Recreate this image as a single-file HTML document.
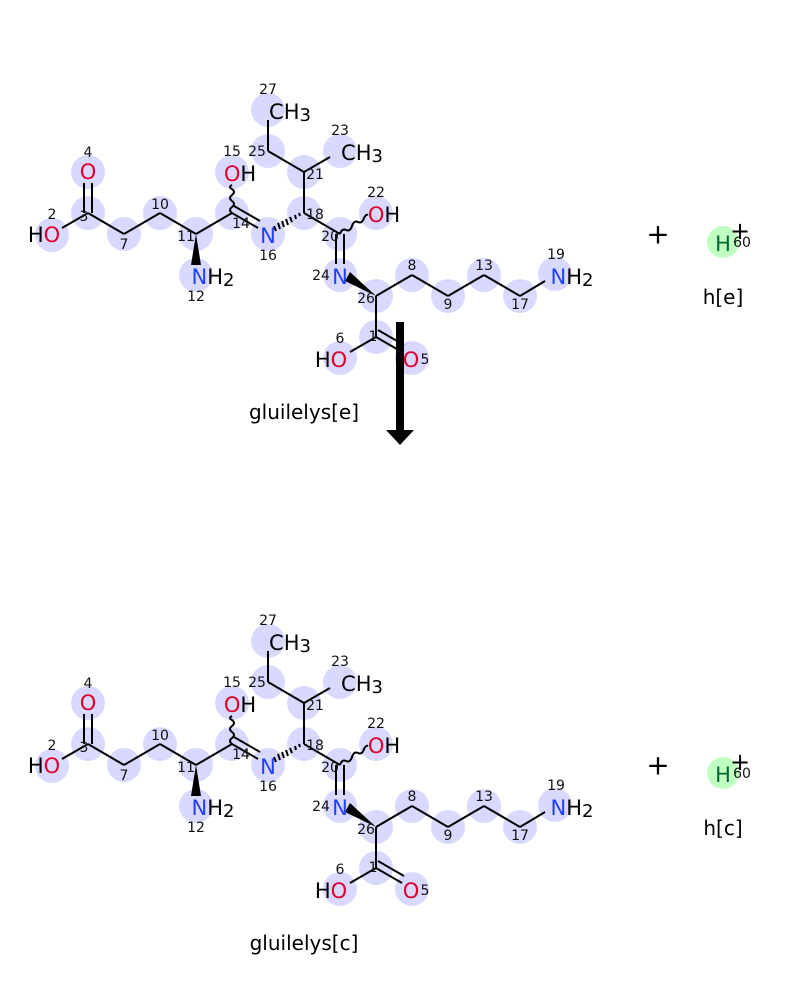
<!DOCTYPE html>
<html><head><meta charset="utf-8"><style>
html,body{margin:0;padding:0;background:#fff}
svg text{font-family:"DejaVu Sans","Liberation Sans",sans-serif}
.e{font-size:21px;text-anchor:middle;dominant-baseline:central}
.n{font-size:14px;text-anchor:middle;dominant-baseline:central;fill:#111}
.O{fill:#e0002a}.N{fill:#2040ff}
line,path.b{stroke:#000;stroke-width:2;fill:none}
.c{fill:#d9d9ff}
</style></head><body>
<svg width="800" height="1000" viewBox="0 0 800 1000" xmlns="http://www.w3.org/2000/svg">
<rect width="800" height="1000" fill="#fff"/>
<g id="m1">
<g class="c">
<circle cx="88" cy="172" r="17"/><circle cx="88" cy="213" r="17"/><circle cx="52" cy="235" r="17"/><circle cx="124" cy="234" r="17"/>
<circle cx="160" cy="213" r="17"/><circle cx="196" cy="234" r="17"/><circle cx="196" cy="275" r="17"/><circle cx="232" cy="213" r="17"/>
<circle cx="232" cy="172" r="17"/><circle cx="268" cy="234" r="17"/><circle cx="304" cy="213" r="17"/><circle cx="304" cy="172" r="17"/>
<circle cx="268" cy="151" r="17"/><circle cx="268" cy="110" r="17"/><circle cx="340" cy="151" r="17"/><circle cx="340" cy="234" r="17"/>
<circle cx="376" cy="213" r="17"/><circle cx="340" cy="275" r="17"/><circle cx="376" cy="296" r="17"/><circle cx="412" cy="275" r="17"/>
<circle cx="448" cy="296" r="17"/><circle cx="484" cy="275" r="17"/><circle cx="520" cy="296" r="17"/><circle cx="555" cy="274" r="17"/>
<circle cx="376" cy="337" r="17"/><circle cx="340" cy="358" r="17"/><circle cx="412" cy="358" r="17"/>
</g>
<line x1="84" y1="213" x2="84" y2="183"/><line x1="92" y1="213" x2="92" y2="183"/>
<line x1="88" y1="213" x2="62" y2="228"/>
<line x1="88" y1="213" x2="124" y2="234"/><line x1="124" y1="234" x2="160" y2="213"/><line x1="160" y1="213" x2="196" y2="234"/>
<line x1="196" y1="234" x2="232" y2="213"/>
<polygon points="196,234 191,265 201,265" fill="#000"/>
<path class="b" d="M232,213 q-4,-3 0,-6 q4,-3 0,-6 q-4,-3 0,-6 q4,-3 0,-6 q-4,-2 0,-4"/>
<line x1="232" y1="213" x2="258" y2="228"/><line x1="234" y1="206" x2="260" y2="221"/>
<g stroke="#000" stroke-width="1.5">
<line x1="276" y1="231" x2="274" y2="226"/><line x1="280" y1="229" x2="278" y2="223"/><line x1="284" y1="227" x2="282" y2="221"/><line x1="288" y1="225" x2="286" y2="219"/><line x1="292" y1="222" x2="290" y2="217"/><line x1="296" y1="219" x2="295" y2="215"/><line x1="300" y1="216" x2="299" y2="213"/>
</g>
<line x1="304" y1="213" x2="304" y2="172"/><line x1="304" y1="172" x2="268" y2="151"/><line x1="268" y1="151" x2="268" y2="120"/>
<line x1="304" y1="172" x2="330" y2="157"/>
<line x1="304" y1="213" x2="340" y2="234"/>
<path class="b" d="M340,234 q2,-6 6,-4 q4,2 6,-4 q2,-6 6,-4 q4,2 6,-4 q2,-4 4,-3"/>
<line x1="336" y1="234" x2="336" y2="264"/><line x1="344" y1="234" x2="344" y2="264"/>
<polygon points="376,296 345,281 350,272" fill="#000"/>
<line x1="376" y1="296" x2="412" y2="275"/><line x1="412" y1="275" x2="448" y2="296"/><line x1="448" y1="296" x2="484" y2="275"/>
<line x1="484" y1="275" x2="520" y2="296"/><line x1="520" y1="296" x2="545" y2="281"/>
<line x1="376" y1="296" x2="376" y2="337"/><line x1="376" y1="337" x2="350" y2="352"/>
<line x1="376" y1="337" x2="402" y2="352"/><line x1="378" y1="330" x2="404" y2="345"/>
<text class="e O" x="88" y="172">O</text>
<text class="e" x="44" y="235"><tspan>H</tspan><tspan class="O">O</tspan></text>
<text class="e" x="213" y="277"><tspan class="N">N</tspan><tspan>H</tspan><tspan font-size="18" dy="3">2</tspan></text>
<text class="e" x="240" y="174"><tspan class="O">O</tspan><tspan>H</tspan></text>
<text class="e N" x="268" y="236">N</text>
<text class="e" x="290" y="112"><tspan>CH</tspan><tspan font-size="18" dy="3">3</tspan></text>
<text class="e" x="362" y="153"><tspan>CH</tspan><tspan font-size="18" dy="3">3</tspan></text>
<text class="e" x="384" y="215"><tspan class="O">O</tspan><tspan>H</tspan></text>
<text class="e N" x="340" y="277">N</text>
<text class="e" x="572" y="277"><tspan class="N">N</tspan><tspan>H</tspan><tspan font-size="18" dy="3">2</tspan></text>
<text class="e" x="331" y="360"><tspan>H</tspan><tspan class="O">O</tspan></text>
<text class="e O" x="411" y="360">O</text>
<g class="n">
<text x="88" y="153">4</text><text x="52" y="215">2</text><text x="84" y="217">3</text><text x="124" y="245">7</text>
<text x="160" y="205">10</text><text x="186" y="237">11</text><text x="196" y="297">12</text><text x="241" y="224">14</text>
<text x="232" y="152">15</text><text x="257" y="152">25</text><text x="268" y="90">27</text><text x="315" y="175">21</text>
<text x="340" y="131">23</text><text x="315" y="215">18</text><text x="376" y="193">22</text><text x="330" y="237">20</text>
<text x="268" y="256">16</text><text x="321" y="276">24</text><text x="366" y="299">26</text><text x="412" y="266">8</text>
<text x="448" y="305">9</text><text x="484" y="266">13</text><text x="520" y="305">17</text><text x="556" y="255">19</text>
<text x="373" y="337">1</text><text x="340" y="339">6</text><text x="425" y="360">5</text>
</g>
</g>
<g transform="translate(0,531)">
<g class="c">
<circle cx="88" cy="172" r="17"/><circle cx="88" cy="213" r="17"/><circle cx="52" cy="235" r="17"/><circle cx="124" cy="234" r="17"/>
<circle cx="160" cy="213" r="17"/><circle cx="196" cy="234" r="17"/><circle cx="196" cy="275" r="17"/><circle cx="232" cy="213" r="17"/>
<circle cx="232" cy="172" r="17"/><circle cx="268" cy="234" r="17"/><circle cx="304" cy="213" r="17"/><circle cx="304" cy="172" r="17"/>
<circle cx="268" cy="151" r="17"/><circle cx="268" cy="110" r="17"/><circle cx="340" cy="151" r="17"/><circle cx="340" cy="234" r="17"/>
<circle cx="376" cy="213" r="17"/><circle cx="340" cy="275" r="17"/><circle cx="376" cy="296" r="17"/><circle cx="412" cy="275" r="17"/>
<circle cx="448" cy="296" r="17"/><circle cx="484" cy="275" r="17"/><circle cx="520" cy="296" r="17"/><circle cx="555" cy="274" r="17"/>
<circle cx="376" cy="337" r="17"/><circle cx="340" cy="358" r="17"/><circle cx="412" cy="358" r="17"/>
</g>
<line x1="84" y1="213" x2="84" y2="183"/><line x1="92" y1="213" x2="92" y2="183"/>
<line x1="88" y1="213" x2="62" y2="228"/>
<line x1="88" y1="213" x2="124" y2="234"/><line x1="124" y1="234" x2="160" y2="213"/><line x1="160" y1="213" x2="196" y2="234"/>
<line x1="196" y1="234" x2="232" y2="213"/>
<polygon points="196,234 191,265 201,265" fill="#000"/>
<path class="b" d="M232,213 q-4,-3 0,-6 q4,-3 0,-6 q-4,-3 0,-6 q4,-3 0,-6 q-4,-2 0,-4"/>
<line x1="232" y1="213" x2="258" y2="228"/><line x1="234" y1="206" x2="260" y2="221"/>
<g stroke="#000" stroke-width="1.5">
<line x1="276" y1="231" x2="274" y2="226"/><line x1="280" y1="229" x2="278" y2="223"/><line x1="284" y1="227" x2="282" y2="221"/><line x1="288" y1="225" x2="286" y2="219"/><line x1="292" y1="222" x2="290" y2="217"/><line x1="296" y1="219" x2="295" y2="215"/><line x1="300" y1="216" x2="299" y2="213"/>
</g>
<line x1="304" y1="213" x2="304" y2="172"/><line x1="304" y1="172" x2="268" y2="151"/><line x1="268" y1="151" x2="268" y2="120"/>
<line x1="304" y1="172" x2="330" y2="157"/>
<line x1="304" y1="213" x2="340" y2="234"/>
<path class="b" d="M340,234 q2,-6 6,-4 q4,2 6,-4 q2,-6 6,-4 q4,2 6,-4 q2,-4 4,-3"/>
<line x1="336" y1="234" x2="336" y2="264"/><line x1="344" y1="234" x2="344" y2="264"/>
<polygon points="376,296 345,281 350,272" fill="#000"/>
<line x1="376" y1="296" x2="412" y2="275"/><line x1="412" y1="275" x2="448" y2="296"/><line x1="448" y1="296" x2="484" y2="275"/>
<line x1="484" y1="275" x2="520" y2="296"/><line x1="520" y1="296" x2="545" y2="281"/>
<line x1="376" y1="296" x2="376" y2="337"/><line x1="376" y1="337" x2="350" y2="352"/>
<line x1="376" y1="337" x2="402" y2="352"/><line x1="378" y1="330" x2="404" y2="345"/>
<text class="e O" x="88" y="172">O</text>
<text class="e" x="44" y="235"><tspan>H</tspan><tspan class="O">O</tspan></text>
<text class="e" x="213" y="277"><tspan class="N">N</tspan><tspan>H</tspan><tspan font-size="18" dy="3">2</tspan></text>
<text class="e" x="240" y="174"><tspan class="O">O</tspan><tspan>H</tspan></text>
<text class="e N" x="268" y="236">N</text>
<text class="e" x="290" y="112"><tspan>CH</tspan><tspan font-size="18" dy="3">3</tspan></text>
<text class="e" x="362" y="153"><tspan>CH</tspan><tspan font-size="18" dy="3">3</tspan></text>
<text class="e" x="384" y="215"><tspan class="O">O</tspan><tspan>H</tspan></text>
<text class="e N" x="340" y="277">N</text>
<text class="e" x="572" y="277"><tspan class="N">N</tspan><tspan>H</tspan><tspan font-size="18" dy="3">2</tspan></text>
<text class="e" x="331" y="360"><tspan>H</tspan><tspan class="O">O</tspan></text>
<text class="e O" x="411" y="360">O</text>
<g class="n">
<text x="88" y="153">4</text><text x="52" y="215">2</text><text x="84" y="217">3</text><text x="124" y="245">7</text>
<text x="160" y="205">10</text><text x="186" y="237">11</text><text x="196" y="297">12</text><text x="241" y="224">14</text>
<text x="232" y="152">15</text><text x="257" y="152">25</text><text x="268" y="90">27</text><text x="315" y="175">21</text>
<text x="340" y="131">23</text><text x="315" y="215">18</text><text x="376" y="193">22</text><text x="330" y="237">20</text>
<text x="268" y="256">16</text><text x="321" y="276">24</text><text x="366" y="299">26</text><text x="412" y="266">8</text>
<text x="448" y="305">9</text><text x="484" y="266">13</text><text x="520" y="305">17</text><text x="556" y="255">19</text>
<text x="373" y="337">1</text><text x="340" y="339">6</text><text x="425" y="360">5</text>
</g>
</g>
<text x="304" y="412" font-size="20" text-anchor="middle" dominant-baseline="central">gluilelys[e]</text>
<text x="304" y="943" font-size="20" text-anchor="middle" dominant-baseline="central">gluilelys[c]</text>
<rect x="396" y="322" width="8" height="110" fill="#000"/>
<polygon points="386,430 414,430 400,445" fill="#000"/>
<g>
<text x="658" y="234" font-size="28" text-anchor="middle" dominant-baseline="central">+</text>
<circle cx="723" cy="242" r="16" fill="#bfffbf"/>
<text x="740" y="231" font-size="24" text-anchor="middle" dominant-baseline="central">+</text>
<text class="e" x="723" y="244" fill="#063">H</text>
<text class="n" x="742" y="243">60</text>
<text x="723" y="297" font-size="20" text-anchor="middle" dominant-baseline="central">h[e]</text>
</g>
<g transform="translate(0,531)">
<text x="658" y="234" font-size="28" text-anchor="middle" dominant-baseline="central">+</text>
<circle cx="723" cy="242" r="16" fill="#bfffbf"/>
<text x="740" y="231" font-size="24" text-anchor="middle" dominant-baseline="central">+</text>
<text class="e" x="723" y="244" fill="#063">H</text>
<text class="n" x="742" y="243">60</text>
<text x="723" y="297" font-size="20" text-anchor="middle" dominant-baseline="central">h[c]</text>
</g>
</svg>
</body></html>
